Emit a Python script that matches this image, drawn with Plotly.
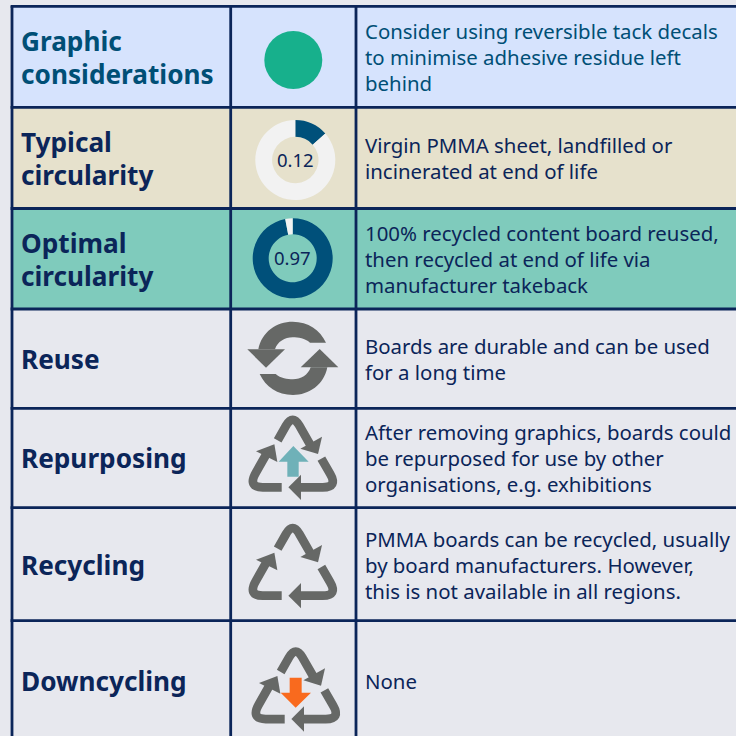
import plotly.graph_objects as go

# ---- data ----
categories = [["Graphic", "considerations"], ["Typical", "circularity"], ["Optimal", "circularity"],
              ["Reuse"], ["Repurposing"], ["Recycling"], ["Downcycling"]]
descriptions = [
    ["Consider using reversible tack decals", "to minimise adhesive residue left", "behind"],
    ["Virgin PMMA sheet, landfilled or", "incinerated at end of life"],
    ["100% recycled content board reused,", "then recycled at end of life via", "manufacturer takeback"],
    ["Boards are durable and can be used", "for a long time"],
    ["After removing graphics, boards could", "be repurposed for use by other", "organisations, e.g. exhibitions"],
    ["PMMA boards can be recycled, usually", "by board manufacturers. However,", "this is not available in all regions."],
    ["None"],
]
typical_circularity = 0.12
optimal_circularity = 0.97
typical_slice_shares = [0.135, 0.865]   # share of the ring as drawn in the picture
optimal_slice_shares = [0.97, 0.03]

# ---- layout / style ----
W = H = 736
FONT = "Noto Sans"
NAVY = "#0B2559"
TEAL_TXT = "#004F76"
DONUT = "#00507A"
RING = "#F2F2F2"
GREY = "#666866"
BG = "#E7E8EE"
row_lines = [6.3, 107.3, 208.5, 309, 408.3, 507.7, 620.7, 760]
col_lines = [12, 230.7, 356]
row_fills = ["#D6E3FD", "#E6E1CC", "#7FCBBC", BG, BG, BG, BG]
label_cy = [57.5, 158.5, 259.5, 359, 458, 565, 681]
desc_cy = [57.3, 158.3, 259.3, 359.3, 458.3, 565.3, 680.5]
txt_colors = [TEAL_TXT] + [NAVY] * 6


def shape_path(d, fill=None, line=None, lw=0):
    return dict(type="path", path=d, xref="x", yref="y", layer="above",
                fillcolor=fill or "rgba(0,0,0,0)",
                line=dict(color=line or "rgba(0,0,0,0)", width=lw))


def poly(pts):
    return "M" + " L".join(f"{x:.2f},{y:.2f}" for x, y in pts) + " Z"


def recycle(top_x, top_y):
    def p(zx, zy):
        return top_x + (zx - 188) / 3, top_y + (zy - 40) / 3

    def pt(zx, zy):
        x, y = p(zx, zy)
        return f"{x:.2f},{y:.2f}"

    out = []
    strokes = [
        f"M{pt(143,116)} L{pt(168,72)} Q{pt(188,37)} {pt(208,72)} L{pt(240,128)}",
        f"M{pt(155,257)} L{pt(98,257)} Q{pt(52,257)} {pt(78,212)} L{pt(112,152)}",
        f"M{pt(274,171)} L{pt(300,216)} Q{pt(324,257)} {pt(278,257)} L{pt(205,257)}",
    ]
    heads = [
        [(276, 105), (264, 157), (211, 141)],
        [(78, 149), (133, 128), (142, 181)],
        [(213, 219), (213, 295), (175, 257)],
    ]
    for s in strokes:
        out.append(shape_path(s, line=GREY, lw=8.8))
    for h in heads:
        out.append(shape_path(poly([p(*q) for q in h]), fill=GREY))
    return out


def reuse_icon():
    ox, oy, cx, cy = 230, 310, 188.5, 145

    def pt(zx, zy, flip=False):
        if flip:
            zx, zy = 2 * cx - zx, 2 * cy - zy
        return f"{ox + zx / 3:.2f},{oy + zy / 3:.2f}"

    out = []
    for f in (False, True):
        d = (f"M{pt(85,118,f)} C{pt(95,65,f)} {pt(140,35,f)} {pt(188,35,f)} "
             f"C{pt(235,35,f)} {pt(270,60,f)} {pt(288,98,f)} L{pt(240,98,f)} "
             f"C{pt(225,85,f)} {pt(205,82,f)} {pt(188,82,f)} "
             f"C{pt(165,82,f)} {pt(142,95,f)} {pt(135,118,f)} Z")
        out.append(shape_path(d, fill=GREY))
        out.append(shape_path(f"M{pt(52,118,f)} L{pt(165,118,f)} L{pt(108,173,f)} Z", fill=GREY))
    return out


shapes = []
for i, fill in enumerate(row_fills):
    shapes.append(dict(type="rect", xref="x", yref="y", layer="below",
                       x0=col_lines[0], x1=W + 10, y0=row_lines[i], y1=row_lines[i + 1],
                       fillcolor=fill, line=dict(width=0)))
for y in row_lines[:-1]:
    shapes.append(dict(type="line", xref="x", yref="y", layer="below", x0=col_lines[0] - 1.4,
                       x1=W + 10, y0=y, y1=y, line=dict(color=NAVY, width=2.8)))
for x in col_lines:
    shapes.append(dict(type="line", xref="x", yref="y", layer="below", x0=x, x1=x,
                       y0=row_lines[0], y1=760, line=dict(color=NAVY, width=2.8)))

shapes += reuse_icon()
shapes += recycle(292.7, 415)
shapes += recycle(292.7, 523.3)
shapes += recycle(295.7, 646.7)

# teal up arrow (repurposing), orange down arrow (downcycling)
shapes.append(shape_path(poly([(230 + x / 3, 310 + y / 3) for x, y in
                               [(190, 408), (236, 455), (206, 455), (206, 500), (172, 500), (172, 455), (146, 455)]]),
                         fill="#6FB1B8"))
shapes.append(shape_path(poly([(230 + x / 3, 510 + y / 3) for x, y in
                               [(179, 503), (215, 503), (215, 548), (243, 548), (197, 593), (152, 548), (179, 548)]]),
                         fill="#F96A1E"))


def donut(shares, cx, cy, r, hole):
    return go.Pie(values=shares, sort=False, direction="clockwise", rotation=0,
                  hole=hole, textinfo="none", hoverinfo="skip", showlegend=False,
                  marker=dict(colors=[DONUT, RING], line=dict(width=0)),
                  domain=dict(x=[(cx - r) / W, (cx + r) / W],
                              y=[1 - (cy + r) / H, 1 - (cy - r) / H]))


fig = go.Figure()
fig.add_trace(go.Scatter(x=[293.3], y=[60], mode="markers", hoverinfo="skip", showlegend=False,
                         marker=dict(size=58, color="#17B08C", line=dict(width=0))))
fig.add_trace(donut(typical_slice_shares, 295.3, 160, 40, 0.58))
fig.add_trace(donut(optimal_slice_shares, 292.7, 258.3, 40, 0.6))

ann = []


def add_lines(lines, x, cy, step, size, color, bold=False):
    y0 = cy - step * (len(lines) - 1) / 2
    for k, t in enumerate(lines):
        ann.append(dict(x=x, y=y0 + k * step, text=f"<b>{t}</b>" if bold else t, xref="x", yref="y",
                        showarrow=False, xanchor="left", yanchor="middle", align="left",
                        borderpad=0, borderwidth=0,
                        font=dict(family=FONT, size=size, color=color)))


for i in range(7):
    add_lines(categories[i], 21, label_cy[i], 33, 26.2, txt_colors[i], bold=True)
    add_lines(descriptions[i], 365, desc_cy[i], 25.9, 20.4, txt_colors[i])
ann.append(dict(x=295.3, y=159.5, text=f"{typical_circularity:.2f}", xref="x", yref="y", showarrow=False,
                font=dict(family=FONT, size=18.5, color=NAVY)))
ann.append(dict(x=292.7, y=257.8, text=f"{optimal_circularity:.2f}", xref="x", yref="y", showarrow=False,
                font=dict(family=FONT, size=18.5, color=NAVY)))

fig.update_layout(width=W, height=H, margin=dict(l=0, r=0, t=0, b=0), autosize=False,
                  paper_bgcolor=BG, plot_bgcolor=BG, shapes=shapes, annotations=ann,
                  xaxis=dict(range=[0, W], visible=False, fixedrange=True),
                  yaxis=dict(range=[H, 0], visible=False, fixedrange=True))
fig.write_html("out.html", config=dict(displayModeBar=False),
               post_script="document.body.style.margin='0';")
